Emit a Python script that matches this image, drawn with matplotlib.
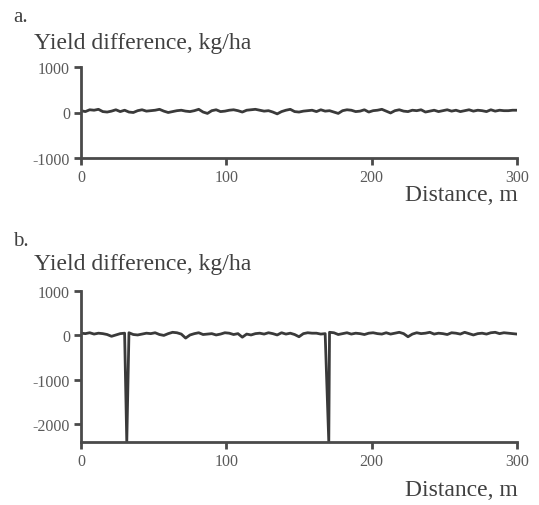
import numpy as np
import matplotlib.pyplot as plt

# Yield difference along the strip, sampled every 3 m (panel a: clean record)
distance = np.arange(0, 301, 3)
yield_diff_a = [40, 20, 60, 50, 70, 20, 10, 30, 60, 20, 50, 10, 0, 40, 60, 30, 40, 50, 70, 30,
                0, 20, 40, 50, 30, 20, 40, 70, 10, -20, 40, 60, 20, 30, 50, 60, 40, 10, 50, 60,
                70, 50, 30, 40, 10, -30, 20, 50, 70, 20, 10, 30, 40, 50, 20, 60, 30, 40, 10, -20,
                40, 60, 50, 20, 30, 60, 10, 40, 50, 70, 30, -10, 40, 60, 30, 20, 50, 40, 60, 10,
                30, 50, 20, 40, 60, 30, 50, 20, 40, 60, 30, 50, 40, 20, 60, 30, 50, 40, 40, 50, 50]

# Panel b: same kind of record, with two dropouts where yield falls to the floor
yield_diff_b = [50, 40, 60, 30, 50, 40, 20, -20, 10, 40, 50, 60, 20, 10, 30, 50, 40, 60, 20, 0,
                40, 70, 60, 30, -60, 10, 40, 60, 20, 30, 40, 10, 30, 60, 50, 20, 40, -40, 30, 10,
                40, 50, 30, 60, 40, 10, 60, 30, 50, 20, -30, 40, 60, 50, 50, 30, 40, 70, 60, 20,
                40, 60, 30, 50, 40, 20, 50, 60, 40, 30, 60, 30, 50, 70, 40, -30, 30, 60, 40, 50,
                70, 30, 50, 40, 20, 60, 50, 30, 70, 40, 10, 40, 50, 30, 60, 70, 40, 60, 50, 40, 30]
dropout_at = [31.5, 170.5]
dropout_value = -2400

xticks = [0, 100, 200, 300]
yticks_a = [-1000, 0, 1000]
yticks_b = [-2000, -1000, 0, 1000]

# splice dropouts into the panel b series
xb = list(distance)
yb = list(yield_diff_b)
for d in dropout_at:
    i = int(np.searchsorted(xb, d))
    xb.insert(i, d)
    yb.insert(i, dropout_value)

plt.rcParams['font.family'] = ['Liberation Serif', 'DejaVu Serif']
plt.rcParams['axes.unicode_minus'] = False
line_color = '#3a3a3a'
axis_color = '#4a4a4a'
text_color = '#404040'

fig = plt.figure(figsize=(5.39, 5.06), dpi=100)
W, H = 539, 506

def make_axes(top_px, bottom_px):
    left, right = 81, 517
    return fig.add_axes([left / W, 1 - bottom_px / H, (right - left) / W, (bottom_px - top_px) / H])

def style(ax, yticks, ylim):
    ax.set_xlim(0, 300)
    ax.set_ylim(*ylim)
    ax.set_xticks(xticks)
    ax.set_yticks(yticks)
    for s in ['top', 'right']:
        ax.spines[s].set_visible(False)
    for s in ['left', 'bottom']:
        ax.spines[s].set_color(axis_color)
        ax.spines[s].set_linewidth(2.0)
    ax.tick_params(direction='out', length=5, width=2.0, color=axis_color,
                   labelsize=11.5, labelcolor='#5a5a5a', pad=3)

ax_a = make_axes(68, 159)
ax_a.plot(distance, yield_diff_a, color=line_color, lw=2.0)
style(ax_a, yticks_a, (-1000, 1000))

ax_b = make_axes(292, 443)
ax_b.plot(xb, yb, color=line_color, lw=2.0)
style(ax_b, yticks_b, (dropout_value, 1000))

fig.text(13 / W, 1 - 18 / H, 'a.', fontsize=15, color=text_color, va='center')
fig.text(34 / W, 1 - 43 / H, 'Yield difference, kg/ha', fontsize=17, color=text_color, va='center')
fig.text(518 / W, 1 - 196 / H, 'Distance, m', fontsize=17, color=text_color, va='center', ha='right')

fig.text(13 / W, 1 - 242 / H, 'b.', fontsize=15, color=text_color, va='center')
fig.text(34 / W, 1 - 265 / H, 'Yield difference, kg/ha', fontsize=17, color=text_color, va='center')
fig.text(518 / W, 1 - 491 / H, 'Distance, m', fontsize=17, color=text_color, va='center', ha='right')

fig.savefig('out.png', dpi=100)
